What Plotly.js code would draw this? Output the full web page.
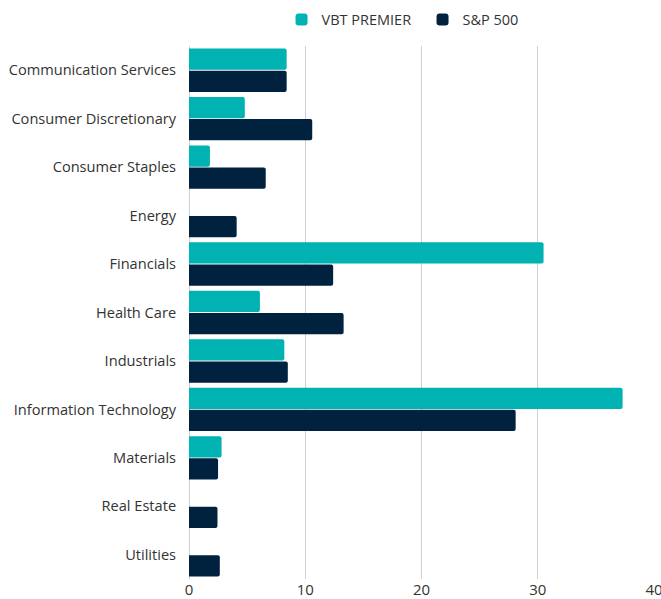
<!DOCTYPE html>
<html>
<head>
<meta charset="utf-8">
<script src="https://cdn.plot.ly/plotly-3.0.1.min.js"></script>
<style>html,body{margin:0;padding:0;background:#fff}#chart{width:661px;height:599px}</style>
</head>
<body>
<div id="chart"></div>
<script>
const categories = ["Communication Services","Consumer Discretionary","Consumer Staples","Energy","Financials","Health Care","Industrials","Information Technology","Materials","Real Estate","Utilities"];
const vbtPremier = [8.4, 4.8, 1.8, 0, 30.5, 6.1, 8.2, 37.3, 2.8, 0, 0];
const sp500 = [8.4, 10.6, 6.6, 4.1, 12.4, 13.3, 8.5, 28.1, 2.5, 2.45, 2.65];
const seriesNames = ["VBT PREMIER", "S&P 500"];
const xTicks = [0, 10, 20, 30, 40];

const traces = [
  {type:'bar', orientation:'h', name:seriesNames[0], y:categories, x:vbtPremier,
   marker:{color:'#00B2B2'}, hoverinfo:'x+name'},
  {type:'bar', orientation:'h', name:seriesNames[1], y:categories, x:sp500,
   marker:{color:'#00223F'}, hoverinfo:'x+name'}
];

const layout = {
  width:661, height:599,
  margin:{l:189, r:7, t:46, b:20, pad:0},
  paper_bgcolor:'#fff', plot_bgcolor:'#fff',
  font:{family:'"Open Sans", "Noto Sans", sans-serif', size:14, color:'#333'},
  barmode:'group', bargap:0.087, bargroupgap:0.04, barcornerradius:2,
  showlegend:true,
  legend:{orientation:'h', x:0.199, xanchor:'left', y:0.994, yanchor:'top', yref:'container',
          font:{size:14.5, color:'#333'}, itemwidth:30, entrywidth:96, entrywidthmode:'pixels', traceorder:'normal'},
  xaxis:{range:[0,40], tickvals:xTicks, ticktext:xTicks.map(String), showgrid:true, gridcolor:'#d0d0d0', gridwidth:1,
         zeroline:true, zerolinecolor:'#d0d0d0', zerolinewidth:1, showline:false, ticks:'', ticklen:0,
         ticklabeloverflow:'allow', tickfont:{size:15, color:'#333'}, fixedrange:true},
  yaxis:{type:'category', autorange:'reversed', showgrid:false, zeroline:false, showline:false, ticks:'outside', ticklen:9, tickcolor:'rgba(0,0,0,0)',
         tickfont:{size:14.6, color:'#333'}, fixedrange:true}
};

Plotly.newPlot('chart', traces, layout, {displayModeBar:false, staticPlot:true});
</script>
</body>
</html>
